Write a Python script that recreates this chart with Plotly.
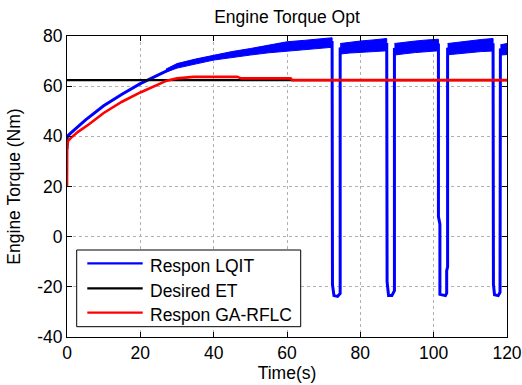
import plotly.graph_objects as go

# ---------------- data ----------------
x_ticks = [0, 20, 40, 60, 80, 100, 120]
y_ticks = [-40, -20, 0, 20, 40, 60, 80]

desired_t = [0, 120]
desired_v = [62.4, 62.4]

ga_t = [0, 0.05, 0.3, 1, 3, 6, 10, 15, 20, 25, 27.2, 30, 32, 34.5, 46.4, 47.5, 61.0, 61.4, 120]
ga_v = [20, 36, 38.2, 39.3, 41.8, 44.8, 49.3, 53.8, 57.5, 60.7, 62.2, 63.1, 63.5, 63.7, 63.7, 63.1, 63.1, 62.4, 62.4]

lqit_t = [0, 0.1, 1, 5, 10, 15, 20, 25, 27, 30, 35, 40, 45, 50, 55, 60, 65, 70, 72.3,
          72.4, 72.8, 73.8, 74.5, 74.5,
          77, 80, 84, 87.2,
          87.3, 87.7, 88.6, 89.3, 89.3,
          92, 95, 98, 101.3,
          101.3, 101.7, 101.7, 103.2, 103.55, 103.55, 103.8, 103.8,
          107, 110, 113, 116.2,
          116.3, 116.6, 117.6, 118.1, 118.2,
          120]
lqit_v = [35, 40, 41.3, 46.5, 52.2, 56.8, 61.0, 64.6, 66.0, 68.1, 69.8, 71.4, 72.65, 73.7, 74.85, 75.9, 76.5, 77.1, 77.4,
          -19, -23.5, -23.8, -22.6, 74.9,
          75.35, 75.8, 76.2, 76.55,
          -18, -23.5, -23.5, -21.5, 74.7,
          75.25, 75.7, 76.1, 76.4,
          8, 5, -23.0, -23.5, -22.5, -13.6, -12, 74.75,
          75.3, 75.75, 76.2, 76.5,
          -19, -23.2, -23.5, -22.2, 74.45,
          74.8]

# oscillation envelope of the LQIT response (upper / lower edge per segment)
band_t = [[27, 30, 35, 40, 45, 50, 55, 60, 65, 70, 72.3],
          [74.5, 77, 80, 84, 87.2],
          [89.3, 92, 95, 98, 101.3],
          [103.8, 107, 110, 113, 116.2],
          [118.2, 120]]
band_hi = [[66.8, 69.0, 70.8, 72.4, 73.8, 75.0, 76.4, 77.7, 78.3, 79.0, 79.3],
           [77.0, 77.5, 78.0, 78.5, 79.0],
           [77.0, 77.6, 78.0, 78.4, 78.7],
           [77.0, 77.6, 78.1, 78.6, 79.0],
           [76.5, 77.0]]
band_lo = [[65.6, 67.2, 68.8, 70.4, 71.5, 72.4, 73.3, 74.1, 74.7, 75.2, 75.5],
           [72.8, 73.2, 73.6, 73.9, 74.1],
           [72.4, 72.9, 73.4, 73.8, 74.1],
           [72.5, 73.0, 73.4, 73.8, 74.0],
           [72.4, 72.6]]

legend_names = ["Respon LQIT", "Desired ET", "Respon GA-RFLC"]
legend_colors = ["#0000ff", "#000000", "#ff0000"]

# ---------------- figure ----------------
BLUE, BLACK, RED = legend_colors
FONT = "Liberation Sans, Arial, sans-serif"
FS = 17.5

poly_x, poly_y = [], []
for t, hi, lo in zip(band_t, band_hi, band_lo):
    poly_x += t + t[::-1] + [None]
    poly_y += hi + lo[::-1] + [None]

fig = go.Figure()
fig.add_trace(go.Scatter(x=poly_x, y=poly_y, mode="lines", fill="toself",
                         fillcolor=BLUE, line=dict(color=BLUE, width=1),
                         showlegend=False, hoverinfo="skip"))
fig.add_trace(go.Scatter(x=lqit_t, y=lqit_v, mode="lines", name=legend_names[0],
                         line=dict(color=BLUE, width=3), showlegend=False))
fig.add_trace(go.Scatter(x=desired_t, y=desired_v, mode="lines", name=legend_names[1],
                         line=dict(color=BLACK, width=2.2), showlegend=False))
fig.add_trace(go.Scatter(x=ga_t, y=ga_v, mode="lines", name=legend_names[2],
                         line=dict(color=RED, width=2.6), showlegend=False))

axis_common = dict(showline=True, linecolor="black", linewidth=1, mirror="ticks",
                   ticks="inside", ticklen=5, tickcolor="black", automargin=False,
                   showgrid=True, gridcolor="#b0b0b0", griddash="dot", gridwidth=1,
                   zeroline=False, tickfont=dict(family=FONT, size=FS, color="black"))

fig.update_xaxes(range=[0, 120], tickvals=x_ticks, ticktext=[str(v) for v in x_ticks],
                 ticklabelstandoff=0,
                 title=dict(text="Time(s)", font=dict(family=FONT, size=FS, color="black"), standoff=2),
                 **axis_common)
fig.update_yaxes(range=[-40, 80], tickvals=y_ticks, ticktext=[str(v) for v in y_ticks],
                 title=dict(text="Engine Torque (Nm)", font=dict(family=FONT, size=FS, color="black"), standoff=12),
                 **axis_common)

# legend box drawn in the MATLAB style (long line samples)
PW, PH = 440.0, 301.0
def px(x):
    return (x - 67) / PW
def py(y):
    return (337 - y) / PH

shapes = [dict(type="rect", xref="paper", yref="paper", x0=px(76.7), x1=px(300.7),
               y0=py(326.7), y1=py(250), line=dict(color="black", width=1),
               fillcolor="white", layer="above")]
annots = []
line_y = [263.3, 288.3, 312.7]
text_y = [266.2, 291.0, 314.5]
for name, col, ly, ty in zip(legend_names, legend_colors, line_y, text_y):
    shapes.append(dict(type="line", xref="paper", yref="paper", x0=px(87.3), x1=px(142.7),
                       y0=py(ly), y1=py(ly), line=dict(color=col, width=2.3), layer="above"))
    annots.append(dict(xref="paper", yref="paper", x=px(147.5), y=py(ty), text=name,
                       showarrow=False, xanchor="left", yanchor="middle",
                       font=dict(family=FONT, size=FS, color="black")))

fig.update_layout(
    width=522, height=385,
    margin=dict(l=67, r=15, t=36, b=48),
    paper_bgcolor="white", plot_bgcolor="white",
    title=dict(text="Engine Torque Opt", x=0.5, xref="paper", y=1 - 17 / 385, yanchor="middle",
               font=dict(family=FONT, size=FS, color="black")),
    showlegend=False,
    shapes=shapes, annotations=annots,
)

fig.write_html("out.html", config={"displayModeBar": False},
               post_script="document.body.style.margin='0';document.body.style.overflow='hidden';")
